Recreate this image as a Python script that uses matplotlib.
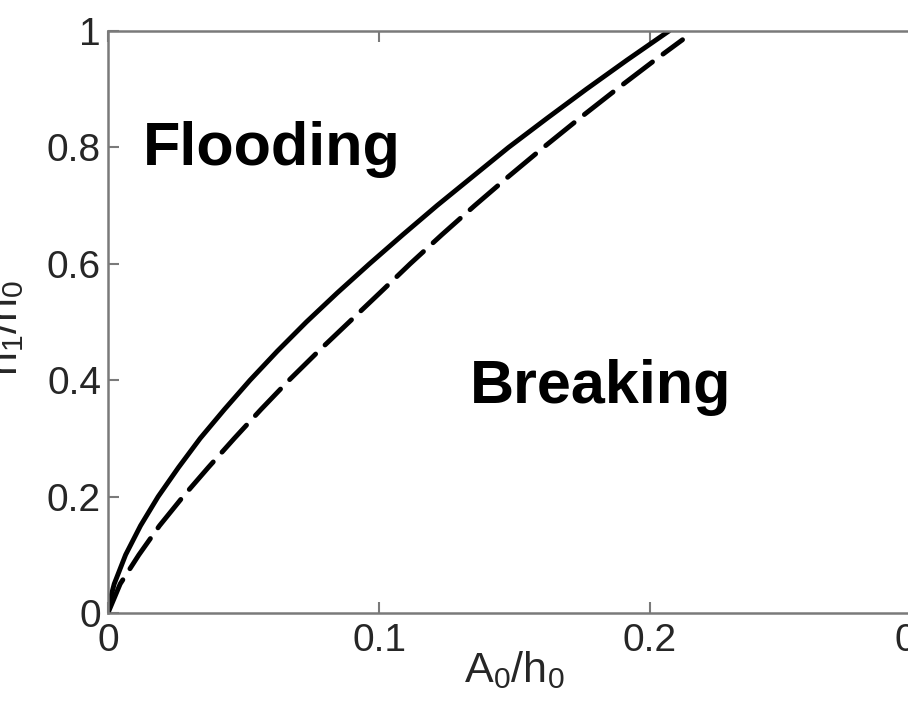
import matplotlib
matplotlib.use("Agg")
import matplotlib.pyplot as plt

# solid boundary (flooding / breaking)
solid_y = [0.0, 0.02, 0.05, 0.1, 0.15, 0.2, 0.25, 0.3, 0.35, 0.4, 0.45,
           0.5, 0.55, 0.6, 0.65, 0.7, 0.75, 0.8, 0.85, 0.9, 0.95, 1.0]
solid_x = [0.0, 0.0006, 0.0023, 0.0065, 0.012, 0.0185, 0.026, 0.034, 0.043,
           0.0524, 0.0625, 0.0732, 0.0846, 0.0965, 0.1088, 0.1214, 0.1346,
           0.1478, 0.1620, 0.1765, 0.1915, 0.207]

# dashed boundary
dash_y = [0.0, 0.05, 0.1, 0.15, 0.2, 0.25, 0.3, 0.35, 0.4, 0.45, 0.5,
          0.55, 0.6, 0.65, 0.7, 0.75, 0.8, 0.85, 0.9, 0.95, 0.985]
dash_x = [0.0, 0.0045, 0.0114, 0.019, 0.0277, 0.037, 0.0466, 0.0565, 0.0668,
          0.0777, 0.089, 0.1003, 0.1115, 0.1232, 0.1353, 0.1478, 0.1607,
          0.174, 0.1877, 0.2018, 0.212]

x_ticks = [0, 0.1, 0.2, 0.3]
x_ticklabels = ["0", "0.1", "0.2", "0.3"]
y_ticks = [0, 0.2, 0.4, 0.6, 0.8, 1.0]
y_ticklabels = ["0", "0.2", "0.4", "0.6", "0.8", "1"]

plt.rcParams["font.family"] = ["Liberation Sans", "DejaVu Sans"]
plt.rcParams["mathtext.default"] = "regular"

SPINE = "#7a7a7a"
TEXT = "#262626"

fig = plt.figure(figsize=(9.08, 7.08), dpi=100)
ax = fig.add_axes([108 / 908, 95 / 708, 813 / 908, 582 / 708])

ax.plot(solid_x, solid_y, color="black", lw=3.5, solid_capstyle="round",
        solid_joinstyle="round")
ax.plot(dash_x, dash_y, color="black", lw=3.5, linestyle=(0, (7.5, 2.7)),
        dash_capstyle="round")

ax.text(0.0129, 0.770, "Flooding", fontsize=44, fontweight="bold",
        color="black", ha="left", va="baseline")
ax.text(0.1336, 0.361, "Breaking", fontsize=44, fontweight="bold",
        color="black", ha="left", va="baseline")

ax.set_xlim(0, 0.3)
ax.set_ylim(0, 1)
ax.set_xticks(x_ticks)
ax.set_xticklabels(x_ticklabels)
ax.set_yticks(y_ticks)
ax.set_yticklabels(y_ticklabels)
ax.tick_params(direction="in", length=8, width=1.5, color=SPINE,
               labelsize=28, labelcolor=TEXT, top=True, right=True)
ax.tick_params(axis="x", pad=7)
ax.tick_params(axis="y", pad=5)
for s in ax.spines.values():
    s.set_color(SPINE)
    s.set_linewidth(1.8)

ax.set_xlabel("A$_0$/h$_0$", fontsize=31, color=TEXT)
ax.set_ylabel("h$_1$/h$_0$", fontsize=31, color=TEXT)
ax.xaxis.set_label_coords(0.5, -0.062)
ax.yaxis.set_label_coords(-0.101, 0.49)

fig.savefig("out.png", dpi=100)
plt.close(fig)
